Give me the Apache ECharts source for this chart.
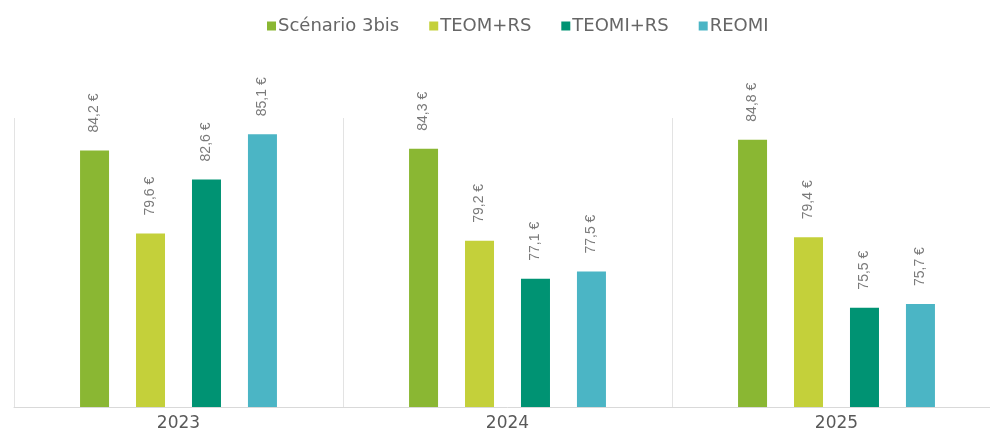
<!DOCTYPE html>
<html><head><meta charset="utf-8">
<script src="https://cdn.jsdelivr.net/npm/echarts@6/dist/echarts.min.js"></script>
<style>html,body{margin:0;padding:0;background:#fff;overflow:hidden;width:990px;height:432px}#c{width:1001px;height:432px}</style>
</head><body><div id="c"></div>
<script>
const categories = ['2023', '2024', '2025'];
const seriesNames = ['Scénario 3bis', 'TEOM+RS', 'TEOMI+RS', 'REOMI'];
const scenario3bis = [84.2, 84.3, 84.8];
const teomRs = [79.6, 79.2, 79.4];
const teomiRs = [82.6, 77.1, 75.5];
const reomi = [85.1, 77.5, 75.7];
const colors = ['#8ab733', '#c4d03a', '#009373', '#4bb5c5'];

const values = [scenario3bis, teomRs, teomiRs, reomi];
const chart = echarts.init(document.getElementById('c'), null, {renderer: 'canvas'});
chart.setOption({
  animation: false,
  legend: {
    top: 12, left: 262, itemWidth: 9, itemHeight: 9, itemGap: 30,
    icon: 'rect',
    textStyle: {color: '#666', fontSize: 18, fontFamily: 'DejaVu Sans, sans-serif', padding: [0,0,0,-3]},
    data: seriesNames
  },
  grid: {left: 14, right: 0, top: 118, bottom: 25},
  xAxis: {
    type: 'category', data: categories,
    axisLine: {lineStyle: {color: '#d9d9d9'}},
    axisTick: {show: false},
    splitLine: {show: true, lineStyle: {color: '#e3e3e3'}},
    axisLabel: {color: '#595959', fontSize: 17, margin: 8, fontFamily: 'DejaVu Sans, sans-serif'}
  },
  yAxis: {type: 'value', min: 70, max: 86, show: false, splitLine: {show: false}},
  series: seriesNames.map((n, i) => ({
    name: n, type: 'bar', data: values[i], barWidth: 29, barGap: '93%',
    itemStyle: {color: colors[i]},
    label: {
      show: true, position: 'top', rotate: 90, align: 'left', verticalAlign: 'middle',
      distance: 18, color: '#7a7a7a', fontSize: 14, fontFamily: 'Liberation Sans, Arial, sans-serif',
      formatter: p => p.value.toFixed(1).replace('.', ',') + ' €'
    }
  }))
});
</script></body></html>
